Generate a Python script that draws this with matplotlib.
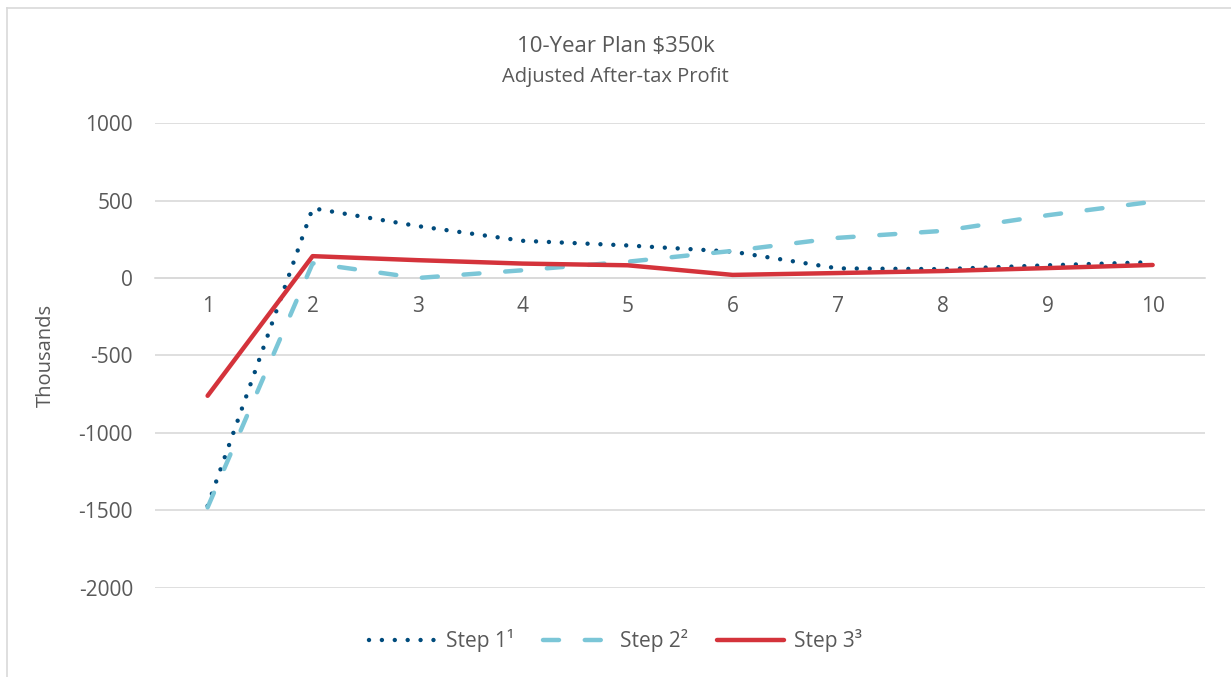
import matplotlib.pyplot as plt
from matplotlib.lines import Line2D

years = [1, 2, 3, 4, 5, 6, 7, 8, 9, 10]
step1 = [-1470, 450, 335, 240, 210, 170, 62, 57, 82, 102]
step2 = [-1480, 95, 0, 50, 105, 175, 259, 304, 405, 492]
step3 = [-760, 141, 115, 93, 82, 20, 32, 45, 64, 84]
yticks = [1000, 500, 0, -500, -1000, -1500, -2000]

plt.rcParams['font.family'] = ['Open Sans', 'DejaVu Sans']
grey = '#595959'

fig = plt.figure(figsize=(12.31, 6.77), dpi=100)
ax = fig.add_axes([0.126, 0.1315, 0.853, 0.6868])

lw = 3.2
ax.plot(years, step1, color='#004b7c', lw=lw, linestyle=(0, (0.001, 2.9)),
        dash_capstyle='round', label='Step 1¹', zorder=3)
ax.plot(years, step2, color='#7bc6d7', lw=lw, linestyle=(0, (3.6, 5.8)),
        dash_capstyle='round', label='Step 2²', zorder=3)
ax.plot(years, step3, color='#d4333b', lw=lw, solid_capstyle='round',
        label='Step 3³', zorder=4)

ax.set_xlim(0.5, 10.5)
ax.set_ylim(-2000, 1000)
ax.set_yticks(yticks)
ax.set_yticklabels([str(v) for v in yticks])
ax.set_xticks(years)
ax.set_xticklabels([str(v) for v in years])
ax.yaxis.grid(True, color='#d9d9d9', lw=1.2)
ax.set_axisbelow(True)
for s in ['top', 'right', 'left']:
    ax.spines[s].set_visible(False)
ax.spines['bottom'].set_position(('data', 0))
ax.spines['bottom'].set_color('#d9d9d9')
ax.spines['bottom'].set_linewidth(1.2)
ax.tick_params(axis='both', length=0, labelsize=15, colors=grey)
ax.tick_params(axis='y', pad=16)
ax.tick_params(axis='x', pad=13)
ax.set_ylabel('Thousands', fontsize=14.5, color=grey, labelpad=16)

fig.text(0.5, 0.932, '10-Year Plan $350k', ha='center', va='center',
         fontsize=16, color=grey)
fig.text(0.5, 0.887, 'Adjusted After-tax Profit', ha='center', va='center',
         fontsize=14.5, color=grey)

leg = fig.legend(loc='center', bbox_to_anchor=(0.5, 0.054), ncol=3,
                 frameon=False, fontsize=15, handlelength=3.2,
                 columnspacing=1.4, handletextpad=0.5)
for t in leg.get_texts():
    t.set_color(grey)

fig.add_artist(Line2D([0.0057, 0.0057], [0, 0.988], transform=fig.transFigure,
                      color='#d9d9d9', lw=1.2))
fig.add_artist(Line2D([0.0057, 1.0], [0.988, 0.988], transform=fig.transFigure,
                      color='#d9d9d9', lw=1.2))

fig.savefig('out.png', dpi=100, facecolor='w')
